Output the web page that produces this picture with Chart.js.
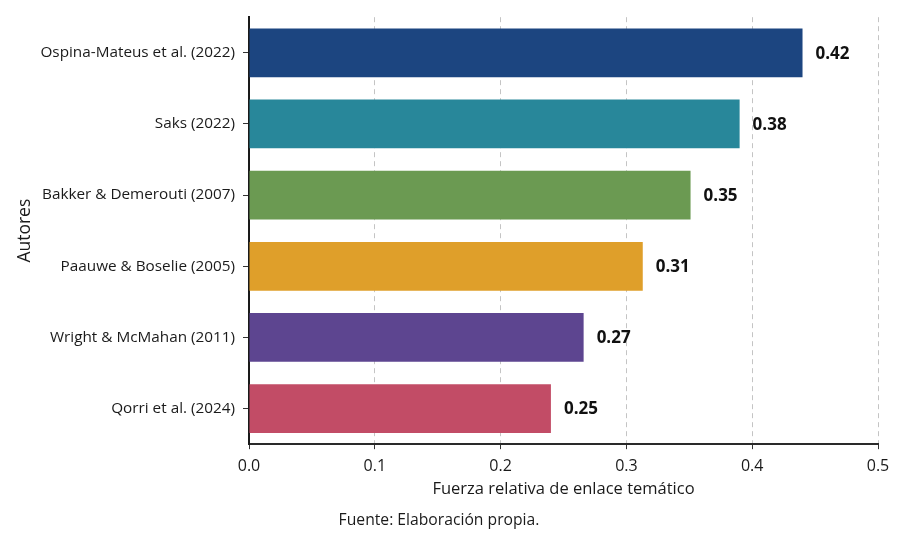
<!DOCTYPE html>
<html>
<head>
<meta charset="utf-8">
<script src="https://cdn.jsdelivr.net/npm/chart.js@4.4.0/dist/chart.umd.min.js"></script>
<style>
  html, body { margin: 0; padding: 0; background: #ffffff; }
  #caja { width: 898px; height: 533px; position: relative; }
</style>
</head>
<body>
<div id="caja"><canvas id="grafico"></canvas></div>
<script>
// DATOS
const autores = ['Ospina-Mateus et al. (2022)', 'Saks (2022)', 'Bakker & Demerouti (2007)',
  'Paauwe & Boselie (2005)', 'Wright & McMahan (2011)', 'Qorri et al. (2024)'];
// largo de las barras tal como se ve en la figura
const fuerza = [0.440, 0.390, 0.351, 0.313, 0.266, 0.240];
// etiquetas impresas junto a cada barra
const etiquetas = ['0.42', '0.38', '0.35', '0.31', '0.27', '0.25'];
const colores = ['#1c4580', '#28879a', '#6b9a52', '#df9f2a', '#5d4590', '#c24c66'];
const ticksX = [0, 0.1, 0.2, 0.3, 0.4, 0.5];

const fuente = '"Open Sans", "Noto Sans", sans-serif';

// plugin para escribir el valor al final de cada barra
const valoresBarras = {
  id: 'valoresBarras',
  afterDatasetsDraw(chart) {
    const ctx = chart.ctx;
    const meta = chart.getDatasetMeta(0);
    ctx.save();
    ctx.font = 'bold 17px ' + fuente;
    ctx.fillStyle = '#111111';
    ctx.textAlign = 'left';
    ctx.textBaseline = 'middle';
    meta.data.forEach((barra, i) => {
      ctx.fillText(etiquetas[i], barra.x + 13, barra.y + 1);
    });
    ctx.restore();
  }
};

const ctx1 = document.getElementById('grafico').getContext('2d');
new Chart(ctx1, {
  type: 'bar',
  data: {
    labels: autores,
    datasets: [{
      data: fuerza,
      backgroundColor: colores,
      borderWidth: 0,
      barPercentage: 0.685,
      categoryPercentage: 1
    }]
  },
  options: {
    indexAxis: 'y',
    responsive: true,
    maintainAspectRatio: false,
    animation: false,
    layout: { padding: { top: 16, right: 20, bottom: 3, left: 0 } },
    plugins: {
      legend: { display: false },
      tooltip: { enabled: false },
      subtitle: {
        display: true,
        position: 'bottom',
        text: 'Fuente: Elaboración propia.',
        color: '#1a1a1a',
        font: { family: fuente, size: 15.7 },
        padding: { top: 0, bottom: 0 }
      }
    },
    scales: {
      x: {
        type: 'linear',
        min: 0,
        max: 0.5,
        afterBuildTicks(scale) {
          scale.ticks = ticksX.map(v => ({ value: v }));
        },
        afterFit(scale) { scale.height = 67; },
        ticks: {
          color: '#1a1a1a',
          font: { family: fuente, size: 16 },
          padding: 8,
          maxRotation: 0,
          callback: v => v.toFixed(1)
        },
        grid: {
          color: ctx => ctx.tick && ctx.tick.value === 0 ? 'rgba(0,0,0,0)' : '#c4c4c4',
          tickColor: '#333333',
          tickLength: 5,
          lineWidth: 1
        },
        border: { display: true, color: '#2a2a2a', width: 2, dash: [5, 4] },
        title: {
          display: true,
          text: 'Fuerza relativa de enlace temático',
          color: '#1a1a1a',
          font: { family: fuente, size: 16.5 },
          padding: { top: 4, bottom: 12 }
        }
      },
      y: {
        afterFit(scale) { scale.width = 249; },
        ticks: {
          color: '#1a1a1a',
          font: { family: fuente, size: 15.3 },
          padding: 8
        },
        grid: {
          offset: false,
          drawOnChartArea: false,
          drawTicks: true,
          tickLength: 6,
          tickColor: '#333333'
        },
        border: { display: true, color: '#1a1a1a', width: 2 },
        title: {
          display: true,
          text: 'Autores',
          color: '#1a1a1a',
          font: { family: fuente, size: 17.5 },
          padding: { top: 15, bottom: 0 }
        }
      }
    }
  },
  plugins: [valoresBarras]
});
</script>
</body>
</html>
